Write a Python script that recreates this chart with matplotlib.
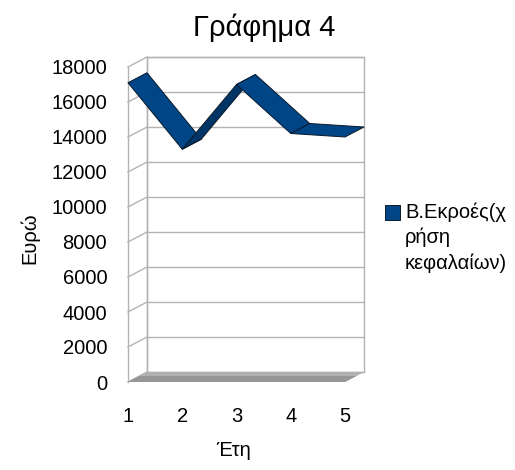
import matplotlib
matplotlib.use("Agg")
import matplotlib.pyplot as plt
from matplotlib.patches import Polygon, Rectangle

plt.rcParams['font.family'] = ['Liberation Sans', 'DejaVu Sans']

# data
years = [1, 2, 3, 4, 5]
outflows = [17100, 13300, 17000, 14200, 14000]
y_ticks = [0, 2000, 4000, 6000, 8000, 10000, 12000, 14000, 16000, 18000]
title = "Γράφημα 4"
x_title = "Έτη"
y_title = "Ευρώ"
series_name = "Β.Εκροές(χ\nρήση\nκεφαλαίων)"

W, H = 515, 470
fig = plt.figure(figsize=(W / 100, H / 100), dpi=100)

# front plane of the 3D box, in pixels
fx0, fx1, fy_top, fy_bot = 128, 345, 67, 382
ax = fig.add_axes([fx0 / W, (H - fy_bot) / H, (fx1 - fx0) / W, (fy_bot - fy_top) / H])
ax.set_xlim(1, 5)
ax.set_ylim(0, 18000)

# oblique depth offset (19 px right, 10 px up) expressed in data units
px_x = (fx1 - fx0) / 4.0
px_y = (fy_bot - fy_top) / 18000.0
ddx = 19 / px_x
ddy = 10 / px_y

grid_c = "#b3b3b3"
kw = dict(clip_on=False)

# back wall
ax.add_patch(Polygon([(1 + ddx, ddy), (5 + ddx, ddy), (5 + ddx, 18000 + ddy), (1 + ddx, 18000 + ddy)],
                     closed=True, facecolor="white", edgecolor=grid_c, lw=1.0, zorder=1, **kw))
for v in y_ticks:
    ax.plot([1 + ddx, 5 + ddx], [v + ddy, v + ddy], color=grid_c, lw=1.0, zorder=1.5, **kw)
    # left wall grid
    ax.plot([1, 1 + ddx], [v, v + ddy], color=grid_c, lw=1.0, zorder=1.5, **kw)
# left wall edges
ax.plot([1, 1], [0, 18000], color=grid_c, lw=1.0, zorder=1.5, **kw)
ax.plot([1 + ddx, 1 + ddx], [ddy, 18000 + ddy], color=grid_c, lw=1.0, zorder=1.5, **kw)

# floor, shaded lighter towards the back
ax.add_patch(Polygon([(1, 0), (5, 0), (5 + ddx, ddy), (1 + ddx, ddy)], closed=True,
                     facecolor="#b0b0b0", edgecolor="none", zorder=2, **kw))
ax.add_patch(Polygon([(1, 0), (5, 0), (5 + ddx * 0.6, ddy * 0.6), (1 + ddx * 0.6, ddy * 0.6)], closed=True,
                     facecolor="#969696", edgecolor="none", zorder=2.1, **kw))

# ribbon line
for i in range(len(years) - 1):
    x0, x1 = years[i], years[i + 1]
    v0, v1 = outflows[i], outflows[i + 1]
    slope_px = (v1 - v0) * px_y / px_x
    rising = slope_px > 10 / 19
    fc = "#003566" if rising else "#004586"
    ax.add_patch(Polygon([(x0, v0), (x1, v1), (x1 + ddx, v1 + ddy), (x0 + ddx, v0 + ddy)],
                         closed=True, facecolor=fc, edgecolor="#0a1a2a", lw=0.7,
                         joinstyle="round", zorder=3 + i * 0.1, **kw))

for s in ax.spines.values():
    s.set_visible(False)
ax.set_xticks(years)
ax.set_xticklabels([str(y) for y in years], fontsize=14.5)
ax.set_yticks(y_ticks)
ax.set_yticklabels([str(v) for v in y_ticks], fontsize=14.5)
ax.tick_params(axis="both", length=0)
ax.tick_params(axis="y", pad=15)
ax.tick_params(axis="x", pad=18)
ax.patch.set_visible(False)

fig.text(264 / W, 1 - 28 / H, title, fontsize=21, ha="center", va="center")
fig.text(233 / W, 1 - 451 / H, x_title, fontsize=14.5, ha="center", va="center")
fig.text(30 / W, 1 - 238 / H, y_title, fontsize=14.5, ha="center", va="center", rotation=90)

# legend
fig.patches.append(Rectangle((385 / W, 1 - 220 / H), 15 / W, 15 / H, transform=fig.transFigure,
                             facecolor="#004586", edgecolor="#0a1a2a", lw=0.7))
fig.text(405 / W, 1 - 202 / H, series_name, fontsize=14.5, ha="left", va="top",
         linespacing=1.4, multialignment="left")

fig.savefig("out.png", dpi=100)
